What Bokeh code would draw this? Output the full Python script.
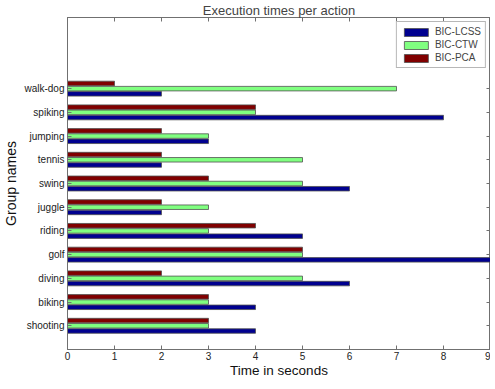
import numpy as np
from bokeh.plotting import figure
from bokeh.models import LinearAxis, FixedTicker, Range1d, Legend, LegendItem
from bokeh.embed import file_html
from bokeh.resources import INLINE

groups = ["shooting", "biking", "diving", "golf", "riding", "juggle",
          "swing", "tennis", "jumping", "spiking", "walk-dog"]
bic_lcss = [4, 4, 6, 9, 5, 2, 6, 2, 3, 8, 2]
bic_ctw = [3, 3, 5, 5, 3, 3, 5, 5, 3, 4, 7]
bic_pca = [3, 3, 2, 5, 4, 2, 3, 2, 2, 4, 1]
x_ticks = [0, 1, 2, 3, 4, 5, 6, 7, 8, 9]

FONT = "Liberation Sans"
pos = np.arange(1, len(groups) + 1)
off = 0.22
bh = 0.19

p = figure(frame_width=423, frame_height=332, output_backend="svg", toolbar_location=None,
           x_range=Range1d(0, 9), y_range=Range1d(0, 14),
           min_border_left=60, min_border_right=0, min_border_top=14,
           min_border_bottom=0)
p.title.text = "Execution times per action"
p.title.align = "center"
p.title.text_font = FONT
p.title.text_font_size = "13px"
p.title.text_font_style = "normal"
p.title.standoff = 0
p.title.offset = 0
p.grid.visible = False
p.outline_line_color = "#707070"

edge = "#505050"
r1 = p.hbar(y=pos - off, right=bic_lcss, left=0, height=bh,
            fill_color="#00008F", line_color=edge, line_width=0.8)
r2 = p.hbar(y=pos, right=bic_ctw, left=0, height=bh,
            fill_color="#80FF80", line_color=edge, line_width=0.8)
r3 = p.hbar(y=pos + off, right=bic_pca, left=0, height=bh,
            fill_color="#800000", line_color=edge, line_width=0.8)

def style_axis(ax):
    ax.axis_line_color = "#707070"
    ax.major_tick_line_color = "#707070"
    ax.minor_tick_line_color = None
    ax.major_tick_in = 4
    ax.major_tick_out = 0
    ax.major_label_text_font = FONT
    ax.major_label_text_font_size = "10px"
    ax.major_label_text_color = "#222222"
    ax.axis_label_text_font = FONT
    ax.axis_label_text_font_size = "14px"
    ax.axis_label_text_font_style = "normal"
    ax.axis_label_text_color = "#111111"

xa = p.xaxis[0]
xa.ticker = FixedTicker(ticks=x_ticks)
xa.axis_label = "Time in seconds"
xa.axis_label_standoff = 0
xa.major_label_standoff = 2
style_axis(xa)
xa.axis_label_text_font_size = "13.5px"

ya = p.yaxis[0]
ya.ticker = FixedTicker(ticks=list(pos))
ya.major_label_overrides = {int(i): g for i, g in zip(pos, groups)}
ya.axis_label = "Group names"
ya.axis_label_standoff = 2
ya.major_label_standoff = 3
style_axis(ya)

top = LinearAxis(ticker=FixedTicker(ticks=x_ticks))
style_axis(top)
top.major_label_text_font_size = "0px"
top.major_label_text_color = None
top.major_label_standoff = 0
p.add_layout(top, "above")

right = LinearAxis(ticker=FixedTicker(ticks=list(pos)))
style_axis(right)
right.major_label_text_color = None
right.major_label_text_font_size = "0px"
right.major_label_standoff = 0
p.add_layout(right, "right")

legend = Legend(items=[LegendItem(label="BIC-LCSS", renderers=[r1]),
                       LegendItem(label="BIC-CTW", renderers=[r2]),
                       LegendItem(label="BIC-PCA", renderers=[r3])],
                location="top_right")
legend.label_text_font = FONT
legend.label_text_font_size = "10px"
legend.glyph_width = 30
legend.glyph_height = 10
legend.spacing = 2
legend.padding = 4
legend.margin = 4
legend.label_standoff = 4
legend.label_height = 10
legend.border_line_color = "#707070"
legend.background_fill_alpha = 1
p.add_layout(legend, "center")

open("out.html", "w").write(file_html(p, INLINE))
